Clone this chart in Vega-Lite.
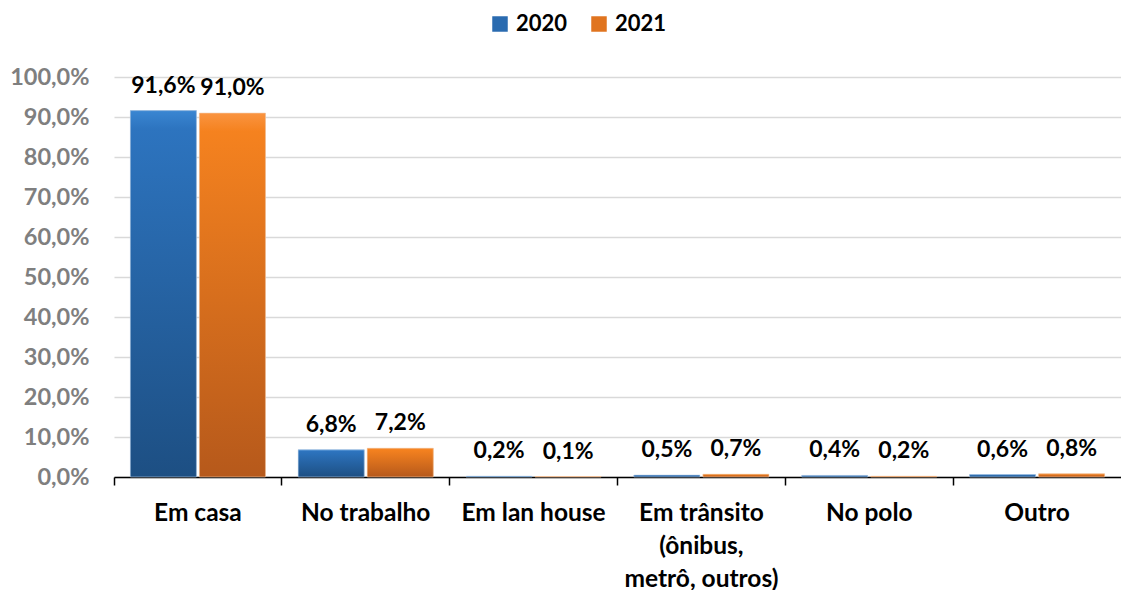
{
  "$schema": "https://vega.github.io/schema/vega-lite/v6.json",
  "autosize": {"type": "none"},
  "padding": {"left": 114, "top": 77, "right": 0, "bottom": 113},
  "width": 1007,
  "height": 400,
  "data": {
    "values": [
      {"local": "Em casa", "ano": "2020", "valor": 0.916},
      {"local": "Em casa", "ano": "2021", "valor": 0.910},
      {"local": "No trabalho", "ano": "2020", "valor": 0.068},
      {"local": "No trabalho", "ano": "2021", "valor": 0.072},
      {"local": "Em lan house", "ano": "2020", "valor": 0.002},
      {"local": "Em lan house", "ano": "2021", "valor": 0.001},
      {"local": "Em trânsito (ônibus, metrô, outros)", "ano": "2020", "valor": 0.005},
      {"local": "Em trânsito (ônibus, metrô, outros)", "ano": "2021", "valor": 0.007},
      {"local": "No polo", "ano": "2020", "valor": 0.004},
      {"local": "No polo", "ano": "2021", "valor": 0.002},
      {"local": "Outro", "ano": "2020", "valor": 0.006},
      {"local": "Outro", "ano": "2021", "valor": 0.008}
    ]
  },
  "encoding": {
    "x": {
      "field": "local", "type": "nominal", "sort": null,
      "scale": {"paddingInner": 0, "paddingOuter": 0},
      "axis": {
        "title": null, "labelAngle": 0, "bandPosition": 0,
        "domainColor": "#000000", "domainWidth": 1.5,
        "tickColor": "#000000", "tickWidth": 1.5, "tickSize": 8,
        "labelFont": "Lato", "labelFontSize": 24.5, "labelFontWeight": "bold",
        "labelColor": "#000000", "labelPadding": 16, "labelLineHeight": 33,
        "labelExpr": "datum.value == 'Em trânsito (ônibus, metrô, outros)' ? ['Em trânsito', '(ônibus,', 'metrô, outros)'] : datum.value"
      }
    },
    "xOffset": {
      "field": "ano", "type": "nominal",
      "scale": {"paddingInner": 0.0435, "paddingOuter": 0.237}
    },
    "y": {
      "field": "valor", "type": "quantitative",
      "scale": {"domain": [0, 1], "nice": false},
      "axis": {
        "title": null, "values": [0, 0.1, 0.2, 0.3, 0.4, 0.5, 0.6, 0.7, 0.8, 0.9, 1.0],
        "format": ".1%", "domain": false, "ticks": false,
        "gridColor": "#D9D9D9", "gridWidth": 1.5,
        "labelFont": "Lato", "labelFontSize": 23.5, "labelFontWeight": "bold",
        "labelColor": "#7F7F7F", "labelPadding": 25
      }
    }
  },
  "layer": [
    {
      "mark": {"type": "bar"},
      "encoding": {
        "color": {
          "field": "ano", "type": "nominal",
          "scale": {"domain": ["2020", "2021"], "range": ["#2A6BB0", "#E0741F"]},
          "legend": {
            "title": null, "orient": "none", "direction": "horizontal",
            "legendX": 375, "legendY": -64,
            "symbolType": "square", "symbolSize": 240, "symbolStrokeWidth": 0,
            "labelFont": "Lato", "labelFontSize": 22, "labelFontWeight": "bold",
            "labelColor": "#000000", "labelOffset": 5, "columnPadding": 20
          }
        }
      }
    },
    {
      "transform": [{"filter": "datum.ano == '2020'"}],
      "mark": {
        "type": "bar",
        "color": {
          "gradient": "linear", "x1": 0, "y1": 0, "x2": 0, "y2": 1,
          "stops": [
            {"offset": 0, "color": "#3A86D2"},
            {"offset": 0.05, "color": "#2D74BF"},
            {"offset": 1, "color": "#1D4F83"}
          ]
        },
        "stroke": "#BFD4EA", "strokeWidth": 0.6
      },
      "encoding": {}
    },
    {
      "transform": [{"filter": "datum.ano == '2021'"}],
      "mark": {
        "type": "bar",
        "color": {
          "gradient": "linear", "x1": 0, "y1": 0, "x2": 0, "y2": 1,
          "stops": [
            {"offset": 0, "color": "#FA9440"},
            {"offset": 0.05, "color": "#F5821F"},
            {"offset": 1, "color": "#B6591B"}
          ]
        },
        "stroke": "#F3D2B6", "strokeWidth": 0.6
      },
      "encoding": {}
    },
    {
      "mark": {
        "type": "text", "font": "Lato", "fontSize": 23, "fontWeight": "bold",
        "color": "#000000", "baseline": "alphabetic", "dy": -18
      },
      "encoding": {
        "text": {"field": "valor", "type": "quantitative", "format": ".1%"}
      }
    }
  ],
  "config": {
    "view": {"stroke": null},
    "locale": {
      "number": {"decimal": ",", "thousands": ".", "grouping": [3], "currency": ["R$", ""]}
    }
  }
}
